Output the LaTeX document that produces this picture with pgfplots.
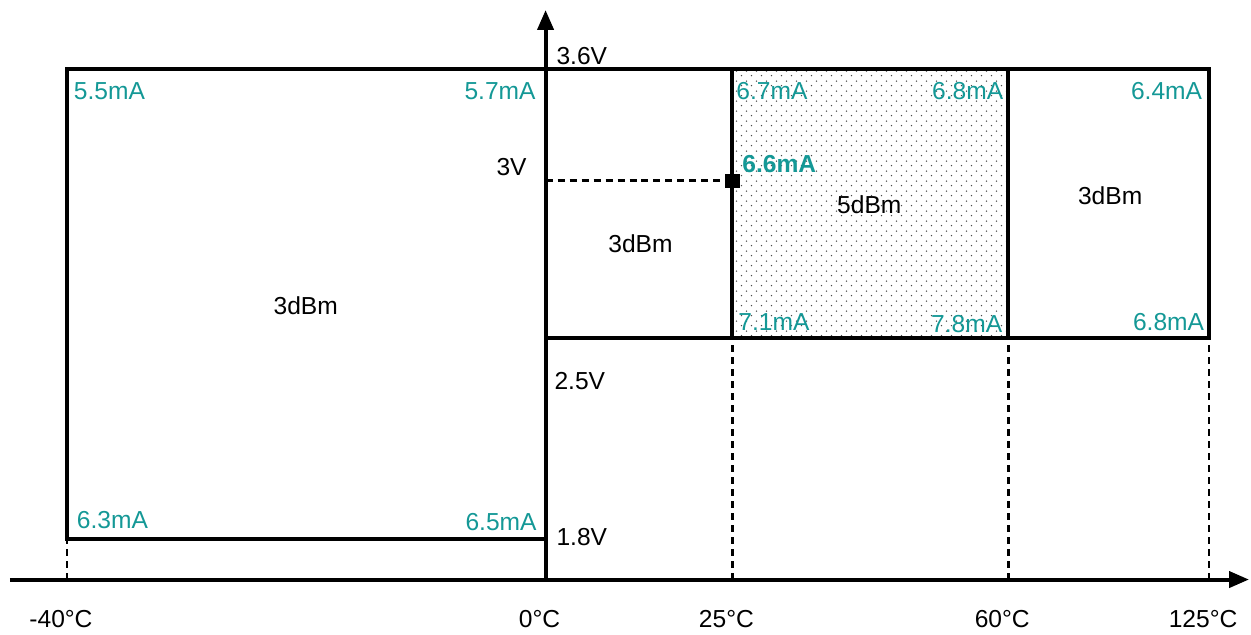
\documentclass[border=0pt]{standalone}
\usepackage{fontspec}
\setmainfont{Liberation Sans}
\usepackage{pgfplots}
\pgfplotsset{compat=1.18}
\usetikzlibrary{arrows.meta,patterns.meta}
\definecolor{tealtxt}{RGB}{20,152,150}
\tikzdeclarepattern{
  name=smalldots,
  type=uncolored,
  bounding box={(0,0) and (5pt,4.8pt)},
  tile size={(5pt,4.8pt)},
  code={\fill (1.25pt,1.2pt) circle (0.4pt); \fill (3.75pt,3.6pt) circle (0.4pt);}
}
\begin{document}
\begin{tikzpicture}[font=\fontsize{12.3}{14}\selectfont, lbl/.style={inner sep=0pt, outer sep=0pt}]
\begin{axis}[
  scale only axis, width=620pt, height=285pt,
  xmin=-536, xmax=704, ymin=0, ymax=570,
  axis lines=middle, enlargelimits=false, clip=false,
  axis line style={line width=2pt, -{Triangle[length=10pt,width=8pt]}},
  xtick={-479,0,187,463,664},
  xticklabels={-40°C,0°C,25°C,60°C,125°C},
  hide obscured x ticks=false,
  major tick length=0pt,
  ytick=\empty,
  xticklabel style={anchor=center, yshift=-20pt, xshift=-3pt, font=\fontsize{12.3}{14}\selectfont},
]
% bounding box of the whole picture
\path (axis cs:-546,-53) rectangle (axis cs:705,580);

% dotted 5dBm region
\addplot[draw=none, pattern=smalldots, pattern color=black!70] coordinates {(187,242) (463,242) (463,511) (187,511)} -- cycle;

% dashed guide lines
\addplot[line width=1.4pt, dash pattern=on 3.5pt off 2.5pt] coordinates {(-479,0) (-479,41)};
\addplot[line width=1.4pt, dash pattern=on 3.5pt off 2.5pt] coordinates {(187,0) (187,242)};
\addplot[line width=1.4pt, dash pattern=on 3.5pt off 2.5pt] coordinates {(463,0) (463,242)};
\addplot[line width=1.4pt, dash pattern=on 3.5pt off 2.5pt] coordinates {(664,0) (664,242)};
\addplot[line width=1.4pt, dash pattern=on 3.5pt off 2.5pt] coordinates {(0,399) (187,399)};

% solid region boundaries
\addplot[line width=2pt, line join=miter] coordinates {(0,242) (664,242) (664,511) (-479,511) (-479,41) (0,41)};
\addplot[line width=2pt] coordinates {(187,242) (187,511)};
\addplot[line width=2pt] coordinates {(463,242) (463,511)};

% operating point 3V / 25C
\addplot[only marks, mark=square*, mark size=3.4pt, black] coordinates {(187,399)};

% current labels
\node[lbl, anchor=west, text=tealtxt] at (axis cs:-472,489) {5.5mA};
\node[lbl, anchor=east, text=tealtxt] at (axis cs:-10,489) {5.7mA};
\node[lbl, anchor=west, text=tealtxt] at (axis cs:191,489) {6.7mA};
\node[lbl, anchor=east, text=tealtxt] at (axis cs:458,489) {6.8mA};
\node[lbl, anchor=east, text=tealtxt] at (axis cs:657,489) {6.4mA};
\node[lbl, anchor=west, text=tealtxt, font=\fontsize{12.3}{14}\selectfont\bfseries] at (axis cs:197,416) {6.6mA};
\node[lbl, anchor=west, text=tealtxt] at (axis cs:193,258) {7.1mA};
\node[lbl, anchor=east, text=tealtxt] at (axis cs:457,256) {7.8mA};
\node[lbl, anchor=east, text=tealtxt] at (axis cs:659,258) {6.8mA};
\node[lbl, anchor=west, text=tealtxt] at (axis cs:-469,60) {6.3mA};
\node[lbl, anchor=east, text=tealtxt] at (axis cs:-9,58) {6.5mA};

% voltage labels
\node[lbl, anchor=west] at (axis cs:11,524) {3.6V};
\node[lbl, anchor=east] at (axis cs:-19,413) {3V};
\node[lbl, anchor=west] at (axis cs:9,199) {2.5V};
\node[lbl, anchor=west] at (axis cs:11,43) {1.8V};

% power labels
\node[lbl] at (axis cs:-240,274) {3dBm};
\node[lbl] at (axis cs:95,336) {3dBm};
\node[lbl] at (axis cs:324,375) {5dBm};
\node[lbl] at (axis cs:565,384) {3dBm};
\end{axis}
\end{tikzpicture}
\end{document}
